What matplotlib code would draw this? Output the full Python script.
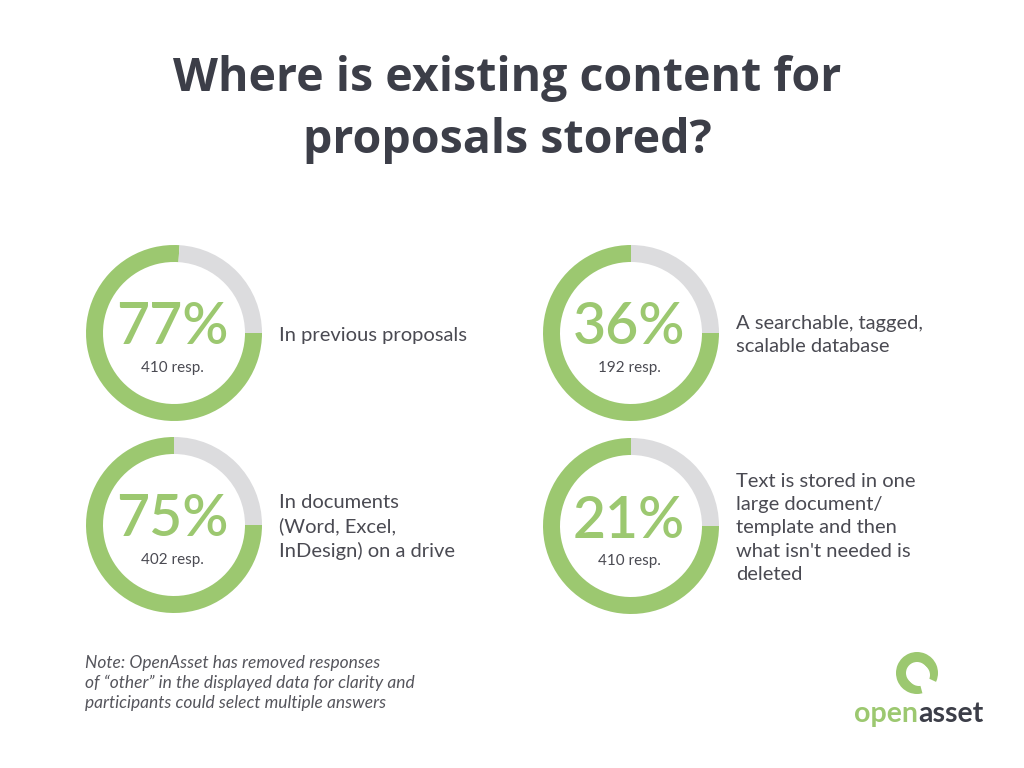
import matplotlib
matplotlib.use("Agg")
import matplotlib.pyplot as plt
from matplotlib.patches import Wedge

# ---- data ----
title_lines = ["Where is existing content for", "proposals stored?"]
pct_labels = ["77%", "36%", "75%", "21%"]
resp_counts = [410, 192, 402, 410]
descriptions = [
    "In previous proposals",
    "A searchable, tagged,\nscalable database",
    "In documents\n(Word, Excel,\nInDesign) on a drive",
    "Text is stored in one\nlarge document/\ntemplate and then\nwhat isn't needed is\ndeleted",
]
ring_fill = [0.76, 0.75, 0.75, 0.75]   # green share of each ring as drawn
note = ("Note: OpenAsset has removed responses\n"
        "of \u201cother\u201d in the displayed data for clarity and\n"
        "participants could select multiple answers")

GREEN = "#9cc870"
GRAY = "#dcdcde"
DARK = "#3c3e48"
TEXT = "#4a4a52"

W, H = 1024, 768
fig = plt.figure(figsize=(W / 100, H / 100), dpi=100)
ax = fig.add_axes([0, 0, 1, 1])

def Y(y):
    return H - y

centers = [(174, 333), (631, 333), (174, 525), (631, 526)]
R = 88
ring_w = 17

for (cx, cy), frac, pl, rc, desc in zip(centers, ring_fill, pct_labels, resp_counts, descriptions):
    ax.pie([frac, 1 - frac], colors=[GREEN, GRAY], startangle=0, counterclock=False,
           center=(cx, Y(cy)), radius=R, wedgeprops=dict(width=ring_w, linewidth=0),
           frame=True)
    ax.text(cx - 2, Y(cy - 5), pl, ha="center", va="center", fontsize=41,
            color=GREEN, family="Lato", fontweight="semibold")
    ax.text(cx - 2, Y(cy + 35), f"{rc} resp.", ha="center", va="center", fontsize=11,
            color=TEXT, family="Lato")
    tx = cx + 105
    ax.text(tx, Y(cy + 2), desc, ha="left", va="center", fontsize=14.5,
            color=TEXT, family="Lato", linespacing=1.45)

ax.set_xlim(0, W)
ax.set_ylim(0, H)
ax.set_aspect("equal")
ax.axis("off")

# title
ax.text(507, Y(78), title_lines[0], ha="center", va="center", fontsize=33.5,
        fontweight="bold", color=DARK, family="Open Sans")
ax.text(507, Y(140), title_lines[1], ha="center", va="center", fontsize=33.5,
        fontweight="bold", color=DARK, family="Open Sans")

# note
ax.text(85, Y(683), note, ha="left", va="center", fontsize=12.5, style="italic",
        color="#55555c", family="Lato", linespacing=1.3)

# logo
ax.add_patch(Wedge((917, Y(673)), 21, 0, 360, width=10, color=GREEN, linewidth=0))
ax.add_patch(Wedge((919, Y(675)), 11, 0, 360, color="white", linewidth=0))
ax.add_patch(Wedge((917, Y(673)), 22, -75, -25, width=12, color="white", linewidth=0))
ax.text(918, Y(714), "open", ha="right", va="center", fontsize=20.5, color=GREEN,
        family="Lato", fontweight="bold")
ax.text(918, Y(714), "asset", ha="left", va="center", fontsize=20.5, color=DARK,
        family="Lato", fontweight="bold")

fig.savefig("out.png", dpi=100, facecolor="white")
